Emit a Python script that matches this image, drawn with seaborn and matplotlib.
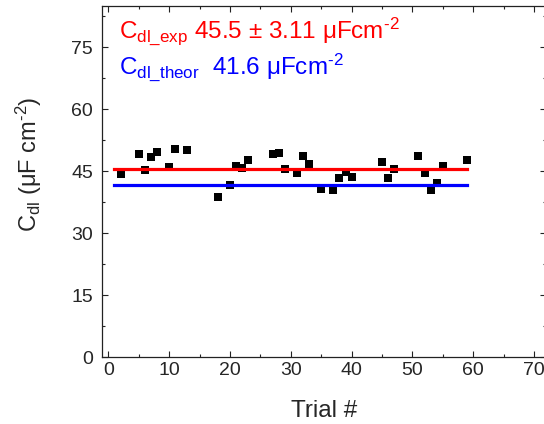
import matplotlib
matplotlib.use("Agg")
import matplotlib.pyplot as plt
from matplotlib.ticker import MultipleLocator
import seaborn as sns
import pandas as pd

# Double-layer capacitance measured in each trial
trial = [2, 5, 6, 7, 8, 10, 11, 13, 18, 20, 21, 22, 23, 27, 28, 29, 31, 32, 33,
         35, 37, 38, 39, 40, 45, 46, 47, 51, 52, 53, 54, 55, 59]
cdl = [44.4, 49.2, 45.3, 48.4, 49.7, 46.0, 50.4, 50.1, 38.7, 41.8, 46.4, 45.9,
       47.8, 49.3, 49.4, 45.5, 44.6, 48.8, 46.7, 40.8, 40.5, 43.5, 44.8, 43.7,
       47.2, 43.5, 45.6, 48.6, 44.6, 40.4, 42.1, 46.4, 47.7]

cdl_exp_mean = 45.5
cdl_exp_std = 3.11
cdl_theor = 41.6
line_span = [1, 59]

x_ticks = [0, 10, 20, 30, 40, 50, 60, 70]
y_ticks = [0, 15, 30, 45, 60, 75]

sns.set_style("ticks")
plt.rcParams["font.family"] = ["Liberation Sans", "DejaVu Sans"]
plt.rcParams["mathtext.fontset"] = "custom"
plt.rcParams["mathtext.rm"] = "Liberation Sans"
plt.rcParams["mathtext.it"] = "Liberation Sans:italic"
plt.rcParams["mathtext.bf"] = "Liberation Sans:bold"

fig = plt.figure(figsize=(5.44, 4.24), dpi=100)
# the right spine sits just past the canvas edge
ax = fig.add_axes([0.188, 0.157, 0.816, 0.829])

points = pd.DataFrame({"trial": trial, "cdl": cdl})
sns.scatterplot(data=points, x="trial", y="cdl", marker="s", s=33,
                color="black", linewidth=0, ax=ax, zorder=2)

lines = pd.DataFrame({
    "trial": line_span * 2,
    "value": [cdl_exp_mean] * 2 + [cdl_theor] * 2,
    "kind": ["exp"] * 2 + ["theor"] * 2,
})
sns.lineplot(data=lines, x="trial", y="value", hue="kind",
             palette={"exp": "#ff0000", "theor": "#0000ff"},
             linewidth=2.3, legend=False, ax=ax, zorder=3,
             solid_capstyle="projecting")

ax.set_xlim(-1, 72)
ax.set_ylim(0, 85)
ax.set_xticks(x_ticks)
ax.set_yticks(y_ticks)
ax.xaxis.set_minor_locator(MultipleLocator(5))
ax.yaxis.set_minor_locator(MultipleLocator(7.5))
ax.tick_params(which="both", direction="in", top=True, right=True,
               color="#222222", width=0.8)
ax.tick_params(which="major", length=4.5, labelsize=14)
ax.tick_params(which="minor", length=2.3)
ax.tick_params(axis="x", which="major", pad=3)
ax.tick_params(axis="y", which="major", pad=6.5)
for side in ax.spines.values():
    side.set_visible(True)
    side.set_color("#222222")
    side.set_linewidth(0.9)

ax.set_xlabel("Trial #", fontsize=17.5)
ax.xaxis.set_label_coords(0.5, -0.12)
ax.set_ylabel(r"C$_{\mathrm{dl}}$ ($\mathrm{\mu}$F cm$^{\text{-2}}$)",
              fontsize=17)
ax.yaxis.set_label_coords(-0.131, 0.55)

ax.text(0.0376, 0.910,
        r"C$_{\mathrm{dl\_exp}}$ " + f"{cdl_exp_mean} ± {cdl_exp_std} μFcm" + r"$^{\text{-2}}$",
        transform=ax.transAxes, color="#ff0000", fontsize=17.5, va="baseline")
ax.text(0.0376, 0.806,
        r"C$_{\mathrm{dl\_theor}}$  " + f"{cdl_theor} μFcm" + r"$^{\text{-2}}$",
        transform=ax.transAxes, color="#0000ff", fontsize=17.5, va="baseline")

fig.savefig("out.png", dpi=100)
